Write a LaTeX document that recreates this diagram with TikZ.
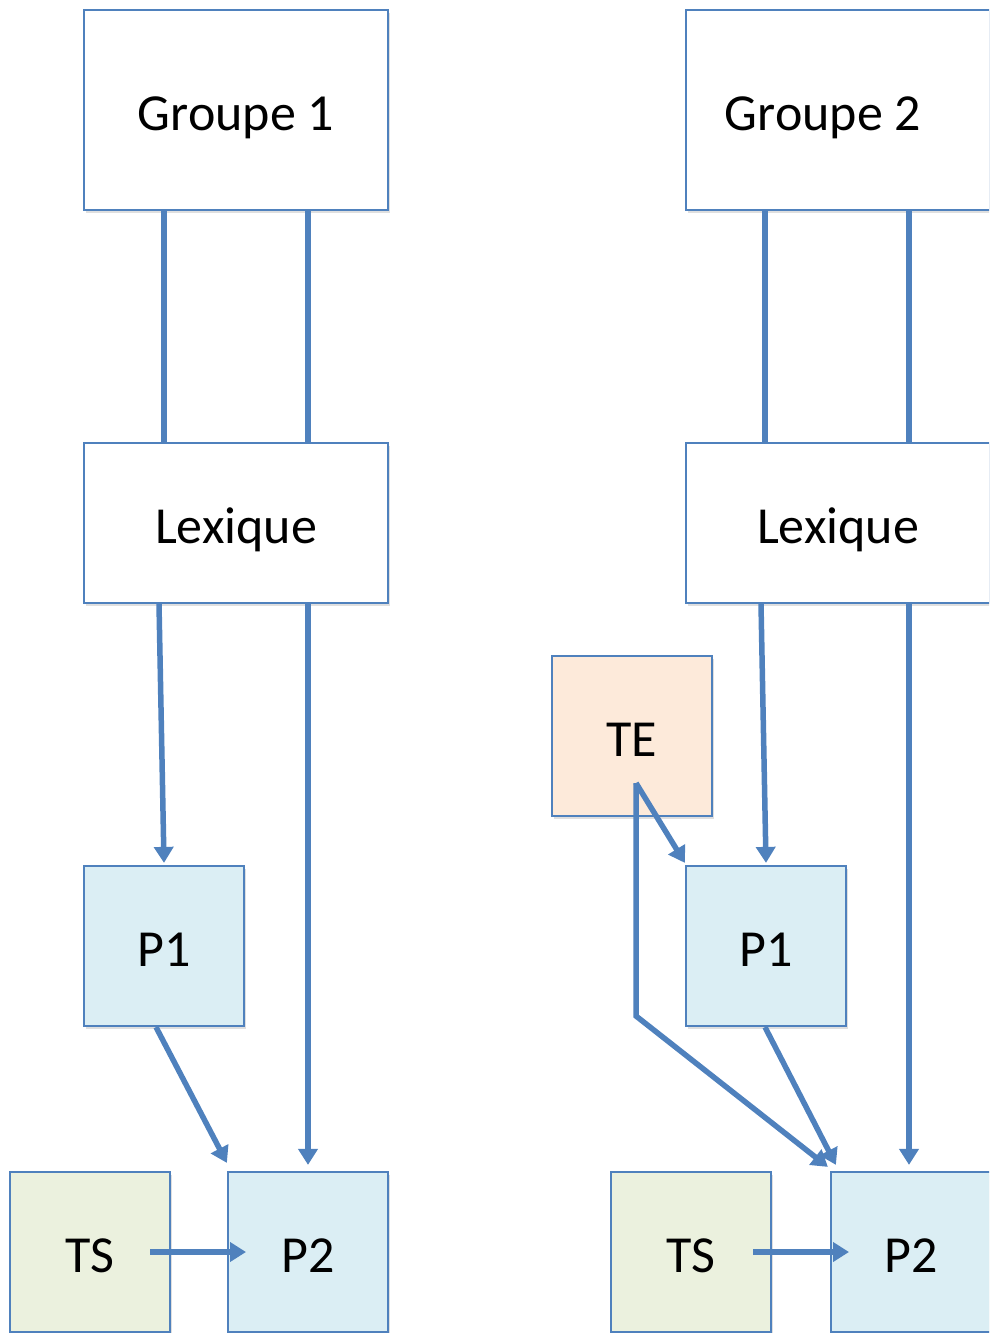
\documentclass[tikz,border=0pt]{standalone}
\usepackage{fontspec}
\setmainfont{Carlito}
\usetikzlibrary{arrows.meta,shadows}
\definecolor{lineblue}{HTML}{4F81BD}
\definecolor{paleblue}{HTML}{DBEEF4}
\definecolor{palepeach}{HTML}{FDEADA}
\definecolor{palegreen}{HTML}{EBF1DE}
\tikzset{
  box/.style={draw=lineblue, line width=2.2pt, inner sep=0pt, fill=white,
    font=\fontsize{52}{62}\selectfont, text height=40pt, text depth=0pt,
    drop shadow={shadow xshift=2pt, shadow yshift=-3pt, opacity=0.25}},
  bigbox/.style={box, minimum width=304pt, minimum height=200pt},
  lexbox/.style={box, minimum width=304pt, minimum height=160pt},
  smallbox/.style={box, minimum width=160pt, minimum height=160pt},
  link/.style={draw=lineblue, line width=5.5pt},
  flow/.style={link, -{Triangle[length=16pt,width=19pt]}}
}

\begin{document}
\begin{tikzpicture}[x=1pt, y=-1pt]
		%%%%% START %%%%%
		\useasboundingbox (0, 0) rectangle (989, 1333);
		\clip (0, 0) rectangle (989, 1333);
		
		% left column
		\node[bigbox] (g1) at (236, 110) {Groupe 1};
		\node[lexbox] (lex1) at (236, 523) {Lexique};
		\node[smallbox, fill=paleblue] (p1a) at (164, 946) {P1};
		\node[smallbox, fill=palegreen] (ts1) at (90, 1252) {TS};
		\node[smallbox, fill=paleblue] (p2a) at (308, 1252) {P2};
		
		% right column
		\node[bigbox] (g2) at (838, 110) {Groupe 2\hspace*{30pt}};
		\node[lexbox] (lex2) at (838, 523) {Lexique};
		\node[smallbox, fill=palepeach] (te) at (632, 736) {TE};
		\node[smallbox, fill=paleblue] (p1b) at (766, 946) {P1};
		\node[smallbox, fill=palegreen] (ts2) at (691, 1252) {TS};
		\node[smallbox, fill=paleblue] (p2b) at (911, 1252) {P2};
		
		\draw[link] ([xshift=-72pt]g1.south) -- ([xshift=-72pt]lex1.north);
		\draw[link] ([xshift=72pt]g1.south) -- ([xshift=72pt]lex1.north);
		\draw[flow] ([xshift=-77pt]lex1.south) -- ([yshift=2pt]p1a.north);
		\draw[flow] ([xshift=72pt]lex1.south) -- ([yshift=6pt]p2a.north);
		\draw[flow] ([xshift=-8pt]p1a.south) -- ([yshift=8pt]p2a.north west);
		\draw[flow] ([xshift=60pt]ts1.center) -- ([xshift=-62pt]p2a.center);
		
		\draw[link] ([xshift=-73pt]g2.south) -- ([xshift=-73pt]lex2.north);
		\draw[link] ([xshift=71pt]g2.south) -- ([xshift=71pt]lex2.north);
		\draw[flow] ([xshift=-77pt]lex2.south) -- ([yshift=2pt]p1b.north);
		\draw[flow] ([xshift=71pt]lex2.south) -- ([xshift=-2pt, yshift=6pt]p2b.north);
		
		\coordinate (tes) at ([xshift=4pt, yshift=-47pt]te.center);
		\coordinate (tebend) at (636, 1016);
		\draw[flow] (tes) -- ([yshift=2pt]p1b.north west);
		\draw[flow] (tes) -- (tebend) -- ([xshift=-2pt, yshift=4pt]p2b.north west);
		\draw[flow] ([xshift=-1pt]p1b.south) -- ([xshift=6pt, yshift=6pt]p2b.north west);
		\draw[flow] ([xshift=62pt]ts2.center) -- ([xshift=-62pt]p2b.center);
		%%%%% END %%%%%
	\end{tikzpicture}
\end{document}
